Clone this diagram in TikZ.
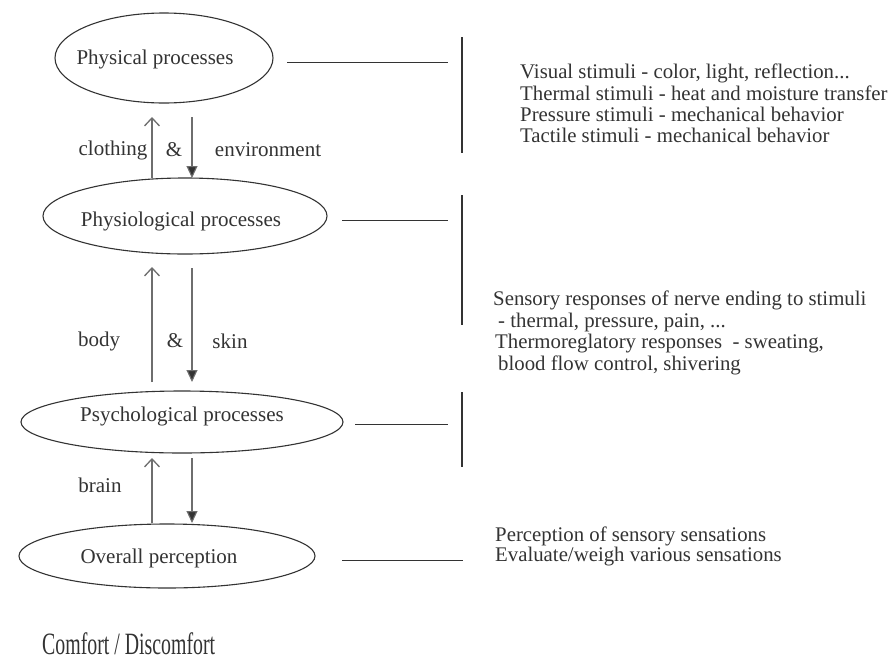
\documentclass[tikz,border=0pt]{standalone}
\usepackage{fontspec}
\setmainfont{Liberation Serif}
\usetikzlibrary{arrows.meta,shapes.geometric}
\definecolor{ink}{HTML}{333333}
\definecolor{arr}{HTML}{6E6E6E}
\begin{document}
\begin{tikzpicture}[x=1pt,y=-1pt,
  proc/.style={ellipse, draw=ink, line width=1.1pt, inner sep=0pt},
  lbl/.style={text=ink, font=\fontsize{21}{22}\selectfont, inner sep=0pt},
  desc/.style={text=ink, font=\fontsize{20.8}{22}\selectfont, inner sep=0pt, anchor=base west},
  link/.style={draw=ink, line width=1pt},
  bar/.style={draw=ink, line width=1.5pt},
  uparr/.style={draw=arr, line width=1.2pt, -{Straight Barb[length=8pt,width=15pt,line width=1.3pt]}},
  downarr/.style={draw=arr, line width=1.1pt, -{Triangle[length=12pt,width=11pt,fill=ink]}}]
\useasboundingbox (0,0) rectangle (891,659);
\fill[white] (0,0) rectangle (891,659);

% process ellipses
\node[proc, minimum width=218pt, minimum height=90pt] (phys) at (164,58) {};
\node[proc, minimum width=284pt, minimum height=76pt] (physio) at (185,216) {};
\node[proc, minimum width=322pt, minimum height=62pt] (psych) at (182,422) {};
\node[proc, minimum width=296pt, minimum height=64pt] (overall) at (167,556) {};

\node[lbl] (tphys) at (155,59) {Physical processes};
\node[lbl] (tphysio) at (181,221) {Physiological processes};
\node[lbl] (tpsych) at (182,416) {Psychological processes};
\node[lbl] (toverall) at (159,558) {Overall perception};

% vertical arrows
\coordinate (u1a) at (152,178); \coordinate (u1b) at (152,117);
\coordinate (d1a) at (192,117); \coordinate (d1b) at (192,178);
\coordinate (u2a) at (152,382); \coordinate (u2b) at (152,267);
\coordinate (d2a) at (192,268); \coordinate (d2b) at (192,382);
\coordinate (u3a) at (152,523); \coordinate (u3b) at (152,458);
\coordinate (d3a) at (192,458); \coordinate (d3b) at (192,523);
\draw[uparr] (u1a) -- (u1b);
\draw[downarr] (d1a) -- (d1b);
\draw[uparr] (u2a) -- (u2b);
\draw[downarr] (d2a) -- (d2b);
\draw[uparr] (u3a) -- (u3b);
\draw[downarr] (d3a) -- (d3b);

\node[lbl] (lcl) at (113,150) {clothing};
\node[lbl] (lam1) at (174,150) {\&};
\node[lbl] (lenv) at (268,150) {environment};
\node[lbl] (lbody) at (99,341) {body};
\node[lbl] (lam2) at (175,341) {\&};
\node[lbl] (lskin) at (230,341) {skin};
\node[lbl] (lbrain) at (100,485) {brain};

% horizontal connectors
\coordinate (h1a) at (287,62);  \coordinate (h1b) at (448,62);
\coordinate (h2a) at (342,220); \coordinate (h2b) at (448,220);
\coordinate (h3a) at (355,424); \coordinate (h3b) at (448,424);
\coordinate (h4a) at (342,560); \coordinate (h4b) at (463,560);
\draw[link] (h1a) -- (h1b);
\draw[link] (h2a) -- (h2b);
\draw[link] (h3a) -- (h3b);
\draw[link] (h4a) -- (h4b);

% vertical bars
\coordinate (b1a) at (462,37);  \coordinate (b1b) at (462,153);
\coordinate (b2a) at (462,195); \coordinate (b2b) at (462,325);
\coordinate (b3a) at (462,392); \coordinate (b3b) at (462,467);
\draw[bar] (b1a) -- (b1b);
\draw[bar] (b2a) -- (b2b);
\draw[bar] (b3a) -- (b3b);

% descriptions
\node[desc] (r11) at (520,78)  {Visual stimuli - color, light, reflection...};
\node[desc] (r12) at (520,100) {Thermal stimuli - heat and moisture transfer};
\node[desc] (r13) at (520,121) {Pressure stimuli - mechanical behavior};
\node[desc] (r14) at (520,142) {Tactile stimuli - mechanical behavior};

\node[desc] (r21) at (493,305) {Sensory responses of nerve ending to stimuli};
\node[desc] (r22) at (498,327) {- thermal, pressure, pain, ...};
\node[desc] (r23) at (495,348) {Thermoreglatory responses\ \ - sweating,};
\node[desc] (r24) at (498,370) {blood flow control, shivering};

\node[desc] (r31) at (495,541) {Perception of sensory sensations};
\node[desc] (r32) at (495,561) {Evaluate/weigh various sensations};

% final outcome
\node[text=ink, inner sep=0pt, anchor=base west] (comfort) at (42,654)
  {\scalebox{0.64}[1]{\fontsize{31}{31}\selectfont Comfort / Discomfort}};
\end{tikzpicture}
\end{document}
